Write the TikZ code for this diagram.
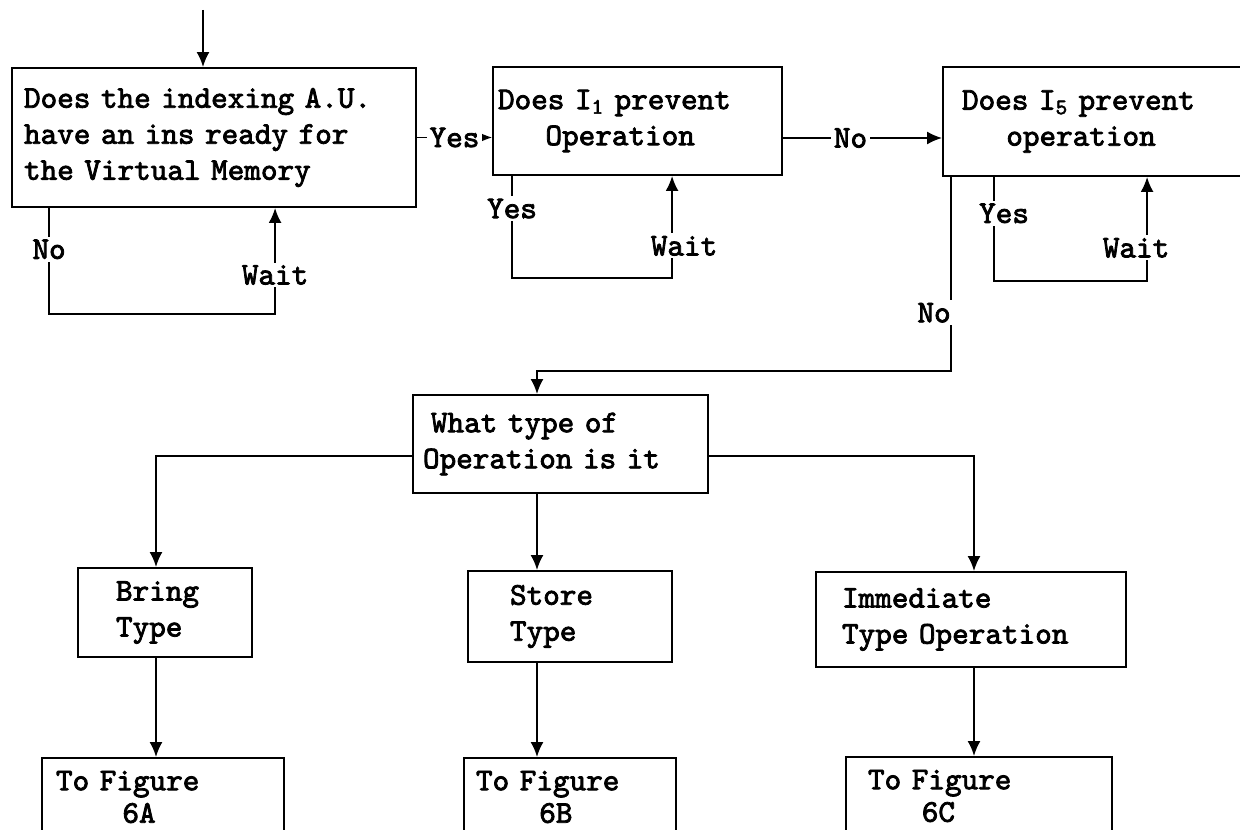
\documentclass[tikz,border=0pt]{standalone}
\usepackage{fontspec}
\newfontfamily\typer{lmmono10-regular.otf}[FakeBold=2.5]
\usetikzlibrary{arrows.meta,calc}

\begin{document}
\begin{tikzpicture}[x=0.02cm,y=-0.02cm,>={Latex[length=3mm,width=2.6mm]},line width=1.1pt,
	box/.style={draw,inner sep=0pt,align=left,font=\typer\fontsize{18}{20.5}\selectfont},
	lbl/.style={fill=white,inner sep=1.5pt,font=\typer\fontsize{18}{20}\selectfont}]

			\useasboundingbox (0,0) rectangle (1240,830);
			\clip (0,0) rectangle (1240,830);

			\coordinate (E) at (203,10);
			\coordinate (colA) at (156,0);
			\coordinate (colB) at (537,0);
			\coordinate (colC) at (974,0);

			% questions
			\node[box,minimum width=8.08cm,minimum height=2.78cm,text width=7.6cm] (ask) at (214,137.5)
				{Does the indexing A.U.\\have an ins ready for\\the Virtual Memory};
			\node[box,minimum width=5.78cm,minimum height=2.16cm,text width=5.58cm] (iOne) at (637.5,121)
				{Does I\textsubscript{1} prevent\\\hspace*{1.5em}Operation};
			\node[box,minimum width=6.4cm,minimum height=2.18cm,text width=5.64cm] (iFive) at (1103,121.5)
				{Does I\textsubscript{5} prevent\\\hspace*{1.4em}operation};
			\node[box,minimum width=5.9cm,minimum height=1.96cm,text width=5.5cm] (optype) at (560.5,444)
				{\hspace*{0.25em}What type of\\Operation is it};

			% operation types
			\node[box,minimum width=3.48cm,minimum height=1.78cm,text width=1.96cm] (bring) at (165,612.5) {Bring\\Type};
			\node[box,minimum width=4.08cm,minimum height=1.82cm,text width=2.4cm] (store) at (570,616.5) {Store\\Type};
			\node[box,minimum width=6.2cm,minimum height=1.9cm,text width=5.16cm] (immed) at (971,619.5) {Immediate\\Type Operation};

			\node[box,minimum width=4.84cm,minimum height=1.56cm,text width=4.28cm] (figA) at (163,797)
				{To Figure\\[-2pt]\hspace*{2.1em}6A};
			\node[box,minimum width=4.24cm,minimum height=1.56cm,text width=3.76cm] (figB) at (570,797)
				{To Figure\\[-2pt]\hspace*{2em}6B};
			\node[box,minimum width=5.32cm,minimum height=1.56cm,text width=4.44cm] (figC) at (979,796)
				{To Figure\\[-2pt]\hspace*{1.7em}6C};

			\draw[->] (E) -- (E |- ask.north);

			% wait loops
			\draw[->] ($(ask.south west)+(38,0)$) -- node[lbl,pos=0.39] (no1) {No} ++(0,106)
				-| node[lbl,pos=0.684] (wait1) {Wait} ($(ask.south west)+(264,0)$);
			\draw[->] ($(iOne.south west)+(20,0)$) -- node[lbl,pos=0.32] (yes2) {Yes} ++(0,102)
				-| node[lbl,pos=0.657,xshift=0.24cm] (wait2) {Wait} ($(iOne.south west)+(180,0)$);
			\draw[->] ($(iFive.south west)+(52,0)$) -- node[lbl,pos=0.35,xshift=0.2cm] (yes3) {Yes} ++(0,104)
				-| node[lbl,pos=0.659,xshift=-0.22cm] (wait3) {Wait} ($(iFive.south west)+(205,0)$);

			\draw[->] (ask.east) -- node[lbl] (yes1) {Yes} (ask.east -| iOne.west);
			\coordinate (N) at ($(iOne.east)+(0,17)$);
			\draw[->] (N) -- node[lbl,xshift=-0.24cm] (no2) {No} (N -| iFive.west);

			\draw[->] ($(iFive.south west)+(9,0)$) -- node[lbl,pos=0.7,xshift=-0.34cm] (no3) {No} ++(0,194)
				-| (colB |- optype.north);

			% branches
			\coordinate (L) at ($(optype.west)+(0,12)$);
			\coordinate (R) at ($(optype.east)+(0,12)$);
			\draw[->] (L) -| (colA |- bring.north);
			\draw[->] (colB |- optype.south) -- (colB |- store.north);
			\draw[->] (R) -| (colC |- immed.north);

			\draw[->] (colA |- bring.south) -- (colA |- figA.north);
			\draw[->] (colB |- store.south) -- (colB |- figB.north);
			\draw[->] (colC |- immed.south) -- (colC |- figC.north);
\end{tikzpicture}
\end{document}
